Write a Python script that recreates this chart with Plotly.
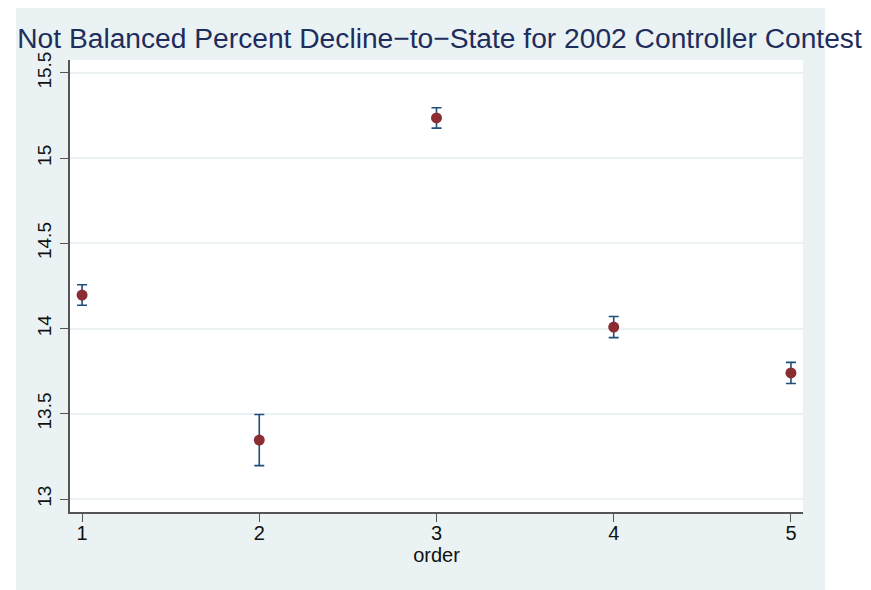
import plotly.graph_objects as go

order = [1, 2, 3, 4, 5]
pct_dts = [14.197, 13.346, 15.236, 14.009, 13.740]
ci_half = [0.060, 0.150, 0.060, 0.062, 0.062]
y_ticks = [13, 13.5, 14, 14.5, 15, 15.5]
y_tick_text = ["13", "13.5", "14", "14.5", "15", "15.5"]

# The page body adds an 8px offset; the figure is laid out in figure coordinates
OFF = 8
W, H = 871 - OFF, 590 - OFF
# plot area in screenshot pixels: x 70..803, y 60..512
L, R, T, B = 70 - OFF, W - (803 - OFF), 60 - OFF, H - (512 - OFF)
pw, ph = W - L - R, H - T - B

fig = go.Figure()
fig.add_trace(go.Scatter(
    x=order, y=pct_dts, mode="markers",
    marker=dict(color="#8c2d34", size=11),
    error_y=dict(type="data", array=ci_half, color="#1f4e7a", thickness=1.6, width=5),
    showlegend=False,
))

def px_x(x):
    return (x - L) / pw

def px_y(y):
    return (H - B - y) / ph

# white strips outside the light background panel (panel spans screenshot x 16..825)
for (x0, x1, y0, y1) in [(-5, 16 - OFF, -5, H + 5), (825 - OFF, W + 5, -5, H + 5)]:
    fig.add_shape(type="rect", xref="paper", yref="paper",
                  x0=px_x(x0), x1=px_x(x1), y0=px_y(y1), y1=px_y(y0),
                  fillcolor="white", line=dict(width=0), layer="below")

fig.update_layout(
    width=W, height=H,
    margin=dict(l=L, r=R, t=T, b=B, autoexpand=False),
    paper_bgcolor="#eaf2f3", plot_bgcolor="white",
    title=dict(text="Not Balanced Percent Decline\u2212to\u2212State for 2002 Controller Contest",
               x=0.5, xanchor="center", y=1 - (38 - OFF) / H, yanchor="middle",
               font=dict(family="Liberation Sans, Arial", size=28.2, color="#1e2d5c")),
    font=dict(family="Liberation Sans, Arial", color="#222222"),
    xaxis=dict(range=[0.932, 5.068], tickvals=order, ticks="outside", ticklen=8,
               tickcolor="#555555", showline=True, linecolor="#555555", linewidth=1.5,
               showgrid=False, zeroline=False, tickfont=dict(size=20, color="#111111"),
               automargin=False, ticklabelstandoff=-6,
               title=dict(text="order", font=dict(size=20, color="#111111"), standoff=0)),
    yaxis=dict(range=[12.924, 15.576], tickvals=y_ticks, ticktext=y_tick_text,
               tickangle=-90, ticks="outside", ticklen=8, tickcolor="#555555",
               showline=True, linecolor="#555555", linewidth=1.5, automargin=False,
               showgrid=True, gridcolor="#eaf2f3", gridwidth=1.5, zeroline=False,
               tickfont=dict(size=19, color="#111111"), ticklabelstandoff=2),
)

fig.write_html("out.html")
